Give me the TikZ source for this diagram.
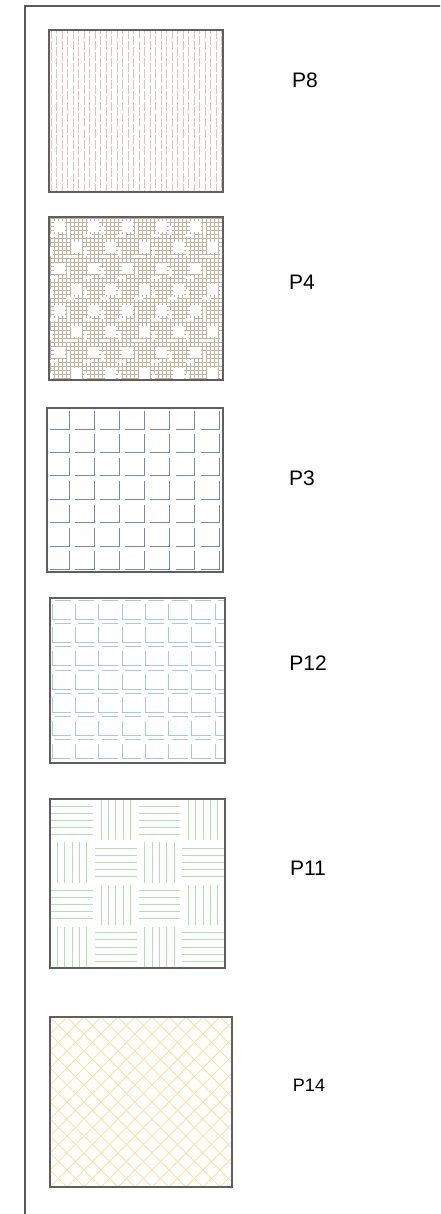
\documentclass[tikz,border=0pt]{standalone}
\usepackage{fontspec}
\setmainfont{Liberation Sans}
\begin{document}
\begin{tikzpicture}[x=1pt,y=-1pt,
  box/.style={draw={rgb,255:red,95;green,95;blue,95}, line width=1.1pt},
  lab/.style={font=\fontsize{21}{24}\selectfont, text=black, inner sep=0pt},
  pgrey/.style={draw={rgb,255:red,218;green,195;blue,195}, line width=0.9pt},
  ptan/.style={draw={rgb,255:red,192;green,180;blue,160}, line width=0.7pt},
  pblue/.style={draw={rgb,255:red,120;green,135;blue,190}, line width=0.9pt},
  pteal/.style={draw={rgb,255:red,160;green,208;blue,198}, line width=0.8pt},
  pgreen/.style={draw={rgb,255:red,180;green,222;blue,180}, line width=0.8pt},
  pyel/.style={draw={rgb,255:red,238;green,232;blue,160}, line width=0.9pt}]
\useasboundingbox (0,0) rectangle (440,1214);
\clip (0,0) rectangle (440,1214);
\fill[white] (0,0) rectangle (440,1214);
% outer frame
\coordinate (fbl) at (25,1230);
\coordinate (ftl) at (25,6);
\coordinate (ftr) at (460,6);
\draw[draw={rgb,255:red,90;green,90;blue,90}, line width=1.6pt] (fbl) -- (ftl) -- (ftr);

% ---------- P8 ----------
\begin{scope}
\clip (49,30) rectangle (223,192);
\foreach \i in {0,...,31} {
  \pgfmathsetmacro\ph{mod(\i,2)*5}
  \draw[pgrey, dash pattern=on 9pt off 2pt, dash phase=\ph pt] (51+\i*5.5,30) -- ++(0,162);
}
\end{scope}
\draw[box] (49,30) rectangle (223,192);
\node[lab] (p8) at (305,80) {P8};

% ---------- P4 ----------
\begin{scope}
\clip (49,217) rectangle (223,380);
\foreach \i in {0,...,44} {
  \draw[ptan] (50.5+\i*4,217) -- ++(0,163);
  \draw[ptan] (49,218.5+\i*4) -- ++(174,0);
}
\foreach \r in {0,...,8} {
  \foreach \c in {-4,...,6} {
    \pgfmathsetmacro\xx{49+\c*34+\r*17+5}
    \pgfmathsetmacro\yy{217+\r*21+4}
    \fill[white] (\xx,\yy) rectangle ++(11,11);
    \fill[white] (\xx+13,\yy+5) rectangle ++(3,9);
    \fill[white] (\xx-5,\yy+13) rectangle ++(9,3);
  }
}
\end{scope}
\draw[box] (49,217) rectangle (223,380);
\node[lab] (p4) at (302,282) {P4};

% ---------- P3 ----------
\begin{scope}
\clip (47,408) rectangle (223,572);
\foreach \c in {0,...,6} {
  \foreach \r in {0,...,6} {
    \pgfmathsetmacro\xa{47+\c*25.1+3}
    \pgfmathsetmacro\xb{47+\c*25.1+22}
    \pgfmathsetmacro\ya{408+\r*23.4+3}
    \pgfmathsetmacro\yb{408+\r*23.4+21}
    \draw[pblue] (\xa,\yb) -- (\xb,\yb) -- (\xb,\ya);
  }
}
\end{scope}
\draw[box] (47,408) rectangle (223,572);
\node[lab] (p3) at (302,478) {P3};

% ---------- P12 ----------
\begin{scope}
\clip (50,598) rectangle (225,763);
\foreach \c in {0,...,7} {
  \foreach \r in {0,...,7} {
    \pgfmathsetmacro\xa{50+\c*23.3+2}
    \pgfmathsetmacro\xb{50+\c*23.3+21}
    \pgfmathsetmacro\ya{598+\r*23.3+2}
    \pgfmathsetmacro\yb{598+\r*23.3+21}
    \draw[pteal] (\xa,\ya+4) -- (\xa,\yb) -- (\xb,\yb);
    \draw[pteal] (\xa+3,\ya) -- (\xb,\ya);
  }
}
\end{scope}
\draw[box] (50,598) rectangle (225,763);
\node[lab] (p12) at (308,663) {P12};

% ---------- P11 ----------
\begin{scope}
\clip (50,799) rectangle (225,968);
\foreach \c in {0,...,3} {
  \foreach \r in {0,...,3} {
    \pgfmathsetmacro\xa{50+\c*43.75}
    \pgfmathsetmacro\ya{799+\r*42.25}
    \pgfmathtruncatemacro\myparity{mod(\c+\r,2)}
    \ifnum\myparity=0
      \foreach \k in {1,...,5} {
        \draw[pgreen] (\xa+1,\ya+\k*7.05) -- ++(41.75,0);
      }
    \else
      \foreach \k in {1,...,5} {
        \draw[pgreen] (\xa+\k*7.3,\ya+1) -- ++(0,40.25);
      }
    \fi
  }
}
\end{scope}
\draw[box] (50,799) rectangle (225,968);
\node[lab] (p11) at (308,868) {P11};

% ---------- P14 ----------
\begin{scope}
\clip (50,1017) rectangle (232,1187);
\foreach \k in {-20,...,40} {
  \draw[pyel] (50+\k*17,1017) -- ++(190,190);
  \draw[pyel] (50+\k*17,1017) -- ++(-190,190);
}
\end{scope}
\draw[box] (50,1017) rectangle (232,1187);
\node[lab, font=\fontsize{18}{20}\selectfont] (p14) at (309,1085) {P14};
\end{tikzpicture}
\end{document}
